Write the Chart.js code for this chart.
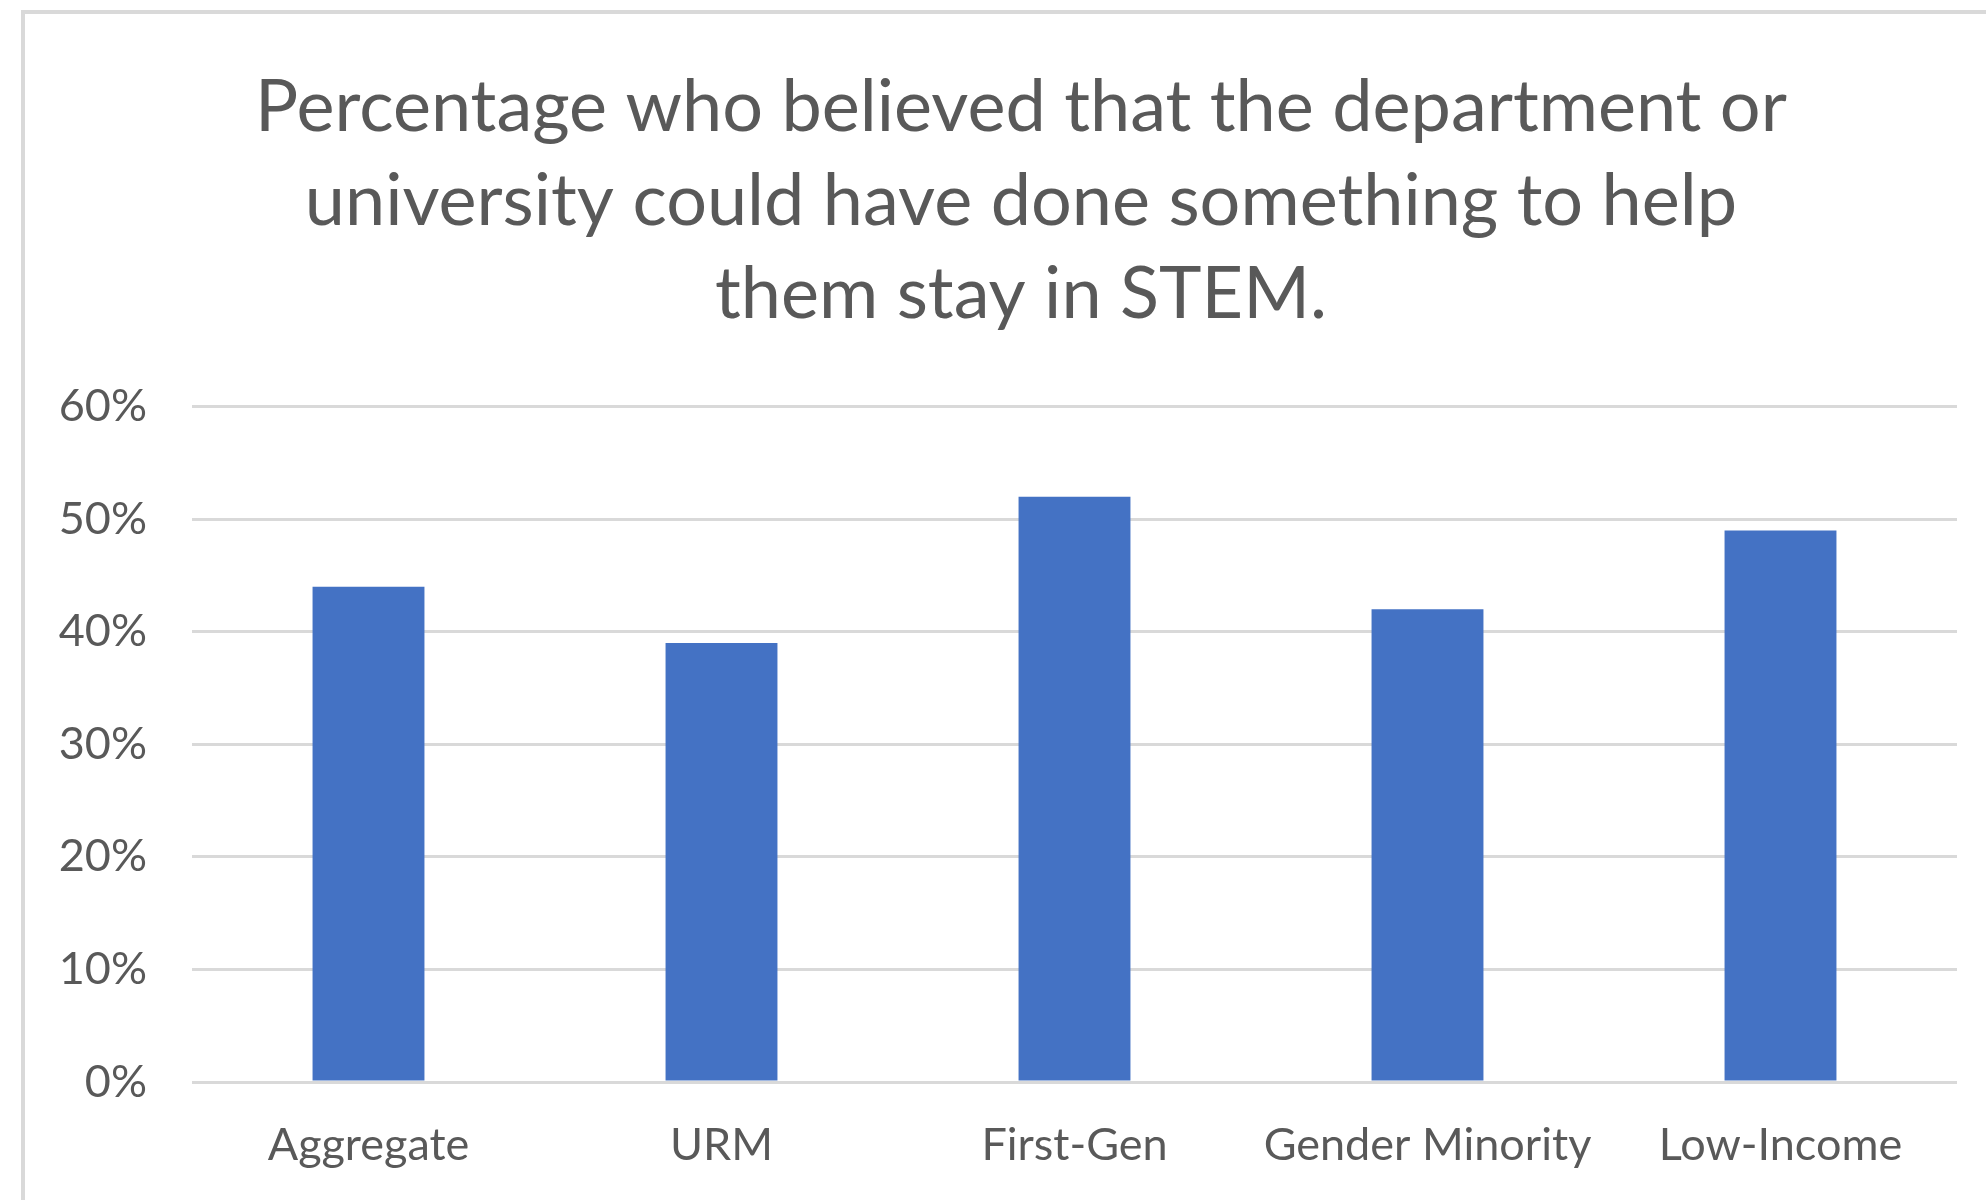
<!DOCTYPE html>
<html>
<head>
<meta charset="utf-8">
<title>Leaving STEM survey</title>
<script src="https://cdn.jsdelivr.net/npm/chart.js@4/dist/chart.umd.min.js"></script>
<style>
  html, body { margin: 0; padding: 0; background: #fff; overflow: hidden; }
  #frame {
    position: absolute; left: 21px; top: 10px;
    width: 2100px; height: 1300px;
    border: 4px solid #d9d9d9;
  }
  #wrap { position: absolute; left: 0; top: 0; width: 1986px; height: 1200px; }
</style>
</head>
<body>
<div id="frame"></div>
<div id="wrap"><canvas id="barchart" width="1986" height="1200"></canvas></div>
<script>
const categories = ['Aggregate', 'URM', 'First-Gen', 'Gender Minority', 'Low-Income'];
const percentages = [44, 39, 52, 42, 49];
const titleLines = [
  'Percentage who believed that the department or',
  'university could have done something to help',
  'them stay in STEM.'
];

const textGrey = '#595959';
const fontFamily = 'Lato, "Open Sans", sans-serif';

// title is centred over the area right of the frame edge, not the whole canvas
const titleShift = {
  id: 'titleShift',
  afterLayout(chart) {
    if (chart.titleBlock) chart.titleBlock.left = 85;
  }
};

new Chart(document.getElementById('barchart').getContext('2d'), {
  type: 'bar',
  data: {
    labels: categories,
    datasets: [{
      data: percentages,
      backgroundColor: '#4472c4',
      borderWidth: 0,
      barPercentage: 0.317,
      categoryPercentage: 1
    }]
  },
  options: {
    responsive: false,
    animation: false,
    layout: { padding: { left: 0, right: 29, top: 0, bottom: 0 } },
    plugins: {
      legend: { display: false },
      tooltip: { enabled: false },
      title: {
        display: true,
        text: titleLines,
        color: textGrey,
        font: { family: fontFamily, size: 72, weight: 'normal', lineHeight: 1.3 },
        padding: { top: 61, bottom: 65 }
      }
    },
    scales: {
      x: {
        grid: { display: false },
        border: { display: false },
        ticks: {
          color: textGrey,
          padding: 28,
          font: { family: fontFamily, size: 45 }
        },
        afterFit: scale => { scale.height = 118; }
      },
      y: {
        min: 0,
        max: 60,
        grid: { color: '#d9d9d9', lineWidth: 3, drawTicks: false },
        border: { display: false },
        ticks: {
          stepSize: 10,
          color: textGrey,
          padding: 45,
          font: { family: fontFamily, size: 45 },
          callback: v => v + '%'
        },
        afterFit: scale => { scale.width = 192; }
      }
    }
  },
  plugins: [titleShift]
});
</script>
</body>
</html>
